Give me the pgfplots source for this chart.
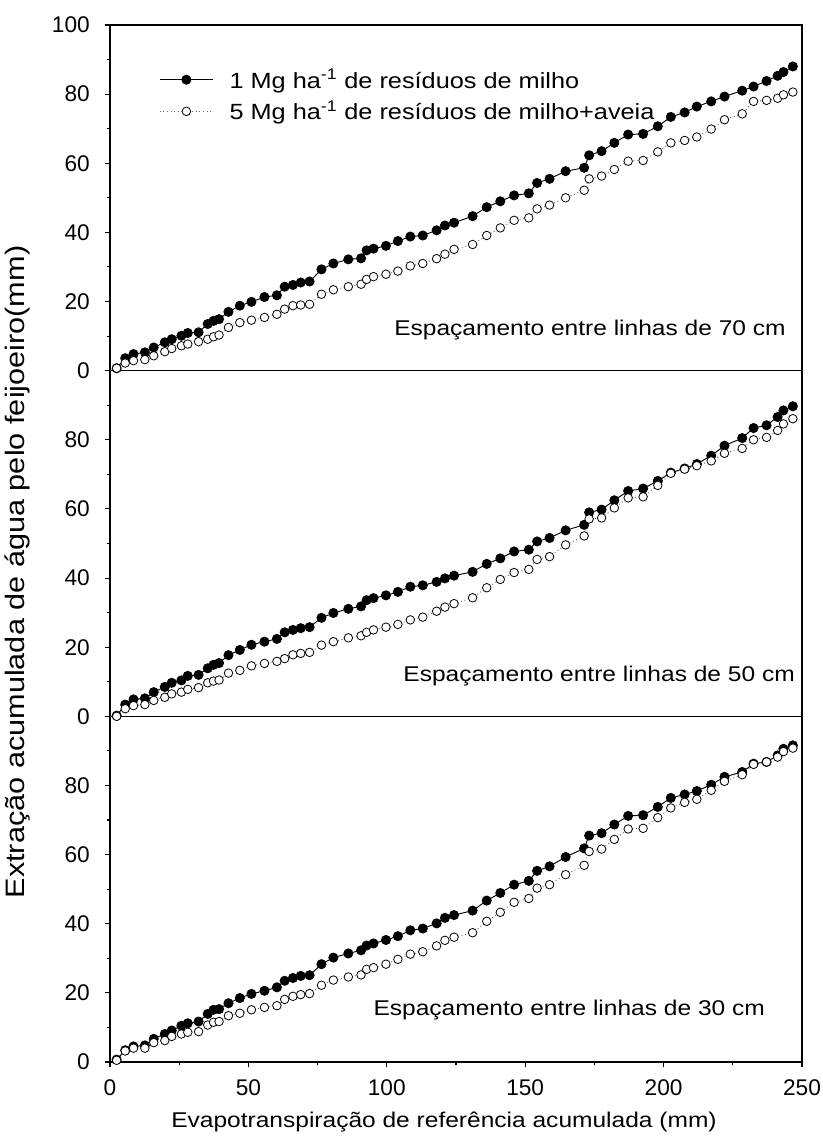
\documentclass[border=0pt]{standalone}
\usepackage{fontspec}
\setmainfont{Liberation Sans}
\newfontfamily\labfont[FakeStretch=1.15]{Liberation Sans}
\usepackage{pgfplots}
\pgfplotsset{compat=1.18}
\usepackage{pgfplotstable}

% x: ETo acumulada; a = 1 Mg (milho), b = 5 Mg (milho+aveia); 70/50/30 cm
\pgfplotstableread{
x     a70  b70  a50  b50  a30  b30
2.4   0.7  0.7  0.2  0.0  0.7  0.5
5.5   3.6  2.2  3.4  2.2  3.4  3.2
8.5   4.8  2.9  4.9  3.1  4.5  4.0
12.6  5.3  3.2  5.2  3.4  4.8  4.0
15.8  6.7  4.3  7.0  4.6  6.7  5.6
19.8  8.2  5.5  8.5  5.5  8.1  6.2
22.3  9.1  6.4  9.7  6.5  9.1  7.4
25.8  10.1 7.2  10.4 7.0  10.5 8.1
28.1  10.9 7.7  11.7 7.8  11.2 8.6
32.0  11.1 8.4  12.0 8.3  11.7 8.8
35.3  13.5 9.1  13.9 9.7  13.9 10.7
37.4  14.4 9.8  14.9 10.2 15.1 11.5
39.4  14.9 10.3 15.4 10.5 15.3 11.7
42.8  17.0 12.5 17.7 12.5 17.0 13.4
46.9  18.8 13.9 19.2 13.3 18.5 14.1
51.1  19.9 14.6 20.7 14.6 19.7 15.1
55.8  21.3 15.4 21.6 15.3 20.6 15.8
60.3  21.8 16.3 22.4 15.9 21.6 16.3
63.1  24.3 17.8 24.3 16.7 23.5 18.1
66.1  24.8 18.8 25.0 17.8 24.3 19.0
68.9  25.5 19.0 25.5 18.2 24.9 19.5
72.1  25.8 19.2 25.8 18.5 25.1 19.8
76.4  29.3 22.1 28.5 20.6 28.3 22.2
80.7  31.0 23.4 29.9 21.6 30.2 23.7
86.1  32.2 24.3 31.1 22.7 31.4 24.6
90.7  32.5 25.0 31.8 23.3 32.3 25.2
92.7  34.8 26.4 33.6 24.3 33.7 26.8
95.2  35.3 27.2 34.2 25.0 34.3 27.3
99.7  36.1 27.9 35.0 25.8 35.3 28.3
104.0 37.5 28.8 36.0 26.6 36.4 29.7
108.5 38.8 30.3 37.5 27.9 38.1 31.2
113.0 39.1 31.0 37.9 28.7 38.6 31.9
118.0 40.6 32.4 38.9 30.4 40.1 33.6
121.0 42.0 33.7 39.9 31.6 41.7 35.2
124.3 42.8 35.1 40.7 32.6 42.5 36.1
131.0 44.7 36.5 41.8 34.3 43.8 37.4
136.1 47.3 39.1 44.1 37.2 46.7 40.7
141.0 49.0 41.3 45.7 39.6 48.9 43.3
146.0 50.7 43.5 47.7 41.6 51.3 46.2
151.3 51.3 44.2 48.2 42.5 52.4 47.3
154.3 54.3 46.8 50.6 45.4 55.3 50.3
158.8 55.5 47.9 51.6 46.2 56.6 51.3
164.6 57.7 50.0 53.8 49.6 59.3 54.2
171.3 58.7 52.2 55.4 52.2 61.8 56.9
173.1 62.3 55.5 59.0 57.1 65.5 60.9
177.6 63.5 56.3 59.8 57.4 66.2 61.6
182.2 65.9 58.2 62.5 60.3 68.7 64.4
187.2 68.3 60.6 65.2 63.2 71.2 67.4
192.6 68.5 60.8 65.9 63.5 71.4 67.6
197.9 70.7 63.3 68.1 66.8 73.8 70.7
202.6 73.4 65.9 70.5 70.3 76.4 73.5
207.6 74.7 66.6 71.7 71.5 77.4 75.1
212.0 76.4 67.6 73.0 72.5 78.4 76.0
217.2 77.9 69.9 75.4 73.9 80.2 78.6
222.0 79.3 72.6 78.3 76.1 82.5 81.2
228.4 81.0 74.3 80.5 77.5 83.9 83.1
232.5 82.2 77.9 83.4 80.0 86.3 86.1
237.2 83.8 78.2 84.2 80.7 86.8 86.8
241.2 85.3 78.8 86.6 82.7 88.7 88.2
243.3 86.4 79.8 88.5 84.6 90.6 89.8
246.7 88.0 80.6 89.7 86.1 91.6 90.8
}\agua

\pgfplotsset{
  painel/.style={
    width=519pt, height=259.25pt, scale only axis,
    xmin=0, xmax=250, ymin=0, ymax=100,
    clip=false,
    axis line style={line width=1pt},
    tick align=outside, xtick pos=lower, ytick pos=left,
    major tick length=4pt, minor tick length=2.5pt,
    every tick/.style={black, line width=0.8pt},
    tick label style={font=\fontsize{17}{20}\selectfont},
    /pgf/number format/assume math mode=true,
    yticklabel style={inner sep=0pt, xshift=-11pt},
    xticklabel style={inner sep=0pt, yshift=-8.75pt},
    minor ytick={10,30,...,90},
  },
  preto/.style={black, line width=0.7pt, mark=*, mark size=3.4pt,
    mark options={solid, fill=black}},
  branco/.style={black!60, dotted, line width=0.7pt, mark=*, mark size=3.2pt,
    mark options={solid, draw=black, fill=white, line width=0.6pt}},
}
\tikzset{texto/.style={anchor=base east, inner sep=0pt,
    font=\labfont\fontsize{16}{19}\selectfont}}

\begin{document}
\begin{tikzpicture}
\path[use as bounding box] (-82.5pt,-63.75pt) rectangle (534pt,796.5pt);

% 30 cm
\begin{axis}[painel, at={(0pt,0pt)}, anchor=south west,
  ytick={0,20,...,80}, xtick={0,50,...,250}, minor x tick num=1]
\addplot[preto] table[x=x, y=a30] {\agua};
\addplot[branco] table[x=x, y=b30] {\agua};
\node[texto] at (axis cs:236.7,13.4) {Espaçamento entre linhas de 30 cm};
\end{axis}

% 50 cm
\begin{axis}[painel, at={(0pt,259.25pt)}, anchor=south west,
  ytick={0,20,...,80}, xtick=\empty]
\addplot[preto] table[x=x, y=a50] {\agua};
\addplot[branco] table[x=x, y=b50] {\agua};
\node[texto] at (axis cs:247.5,10.2) {Espaçamento entre linhas de 50 cm};
\end{axis}

% 70 cm
\begin{axis}[painel, at={(0pt,518.5pt)}, anchor=south west,
  ytick={0,20,...,100}, xtick=\empty,
  legend cell align=left,
  legend style={at={(axis cs:17.7,79.6)}, anchor=west, draw=none, fill=none,
    inner sep=0pt, row sep=8pt, nodes={inner sep=0pt},
    font=\labfont\fontsize{16.5}{19}\selectfont,
    /tikz/every odd column/.append style={column sep=12pt}},
  legend image code/.code={\draw[mark repeat=2, mark phase=2, #1]
    plot coordinates {(0pt,0pt) (20pt,0pt) (40pt,0pt)};}]
\addplot[preto] table[x=x, y=a70] {\agua};
\addlegendentry{1 Mg ha\textsuperscript{-1} de resíduos de milho}
\addplot[branco] table[x=x, y=b70] {\agua};
\addlegendentry{5 Mg ha\textsuperscript{-1} de resíduos de milho+aveia}
\node[texto] at (axis cs:244.2,10.1) {Espaçamento entre linhas de 70 cm};
\end{axis}

\node[font=\labfont\fontsize{16}{19}\selectfont] at (250.5pt,-45pt)
  {Evapotranspiração de referência acumulada (mm)};
\node[rotate=90, font=\labfont\fontsize{20}{23}\selectfont] at (-69pt,367.5pt)
  {Extração acumulada de água pelo feijoeiro(mm)};
\end{tikzpicture}
\end{document}
